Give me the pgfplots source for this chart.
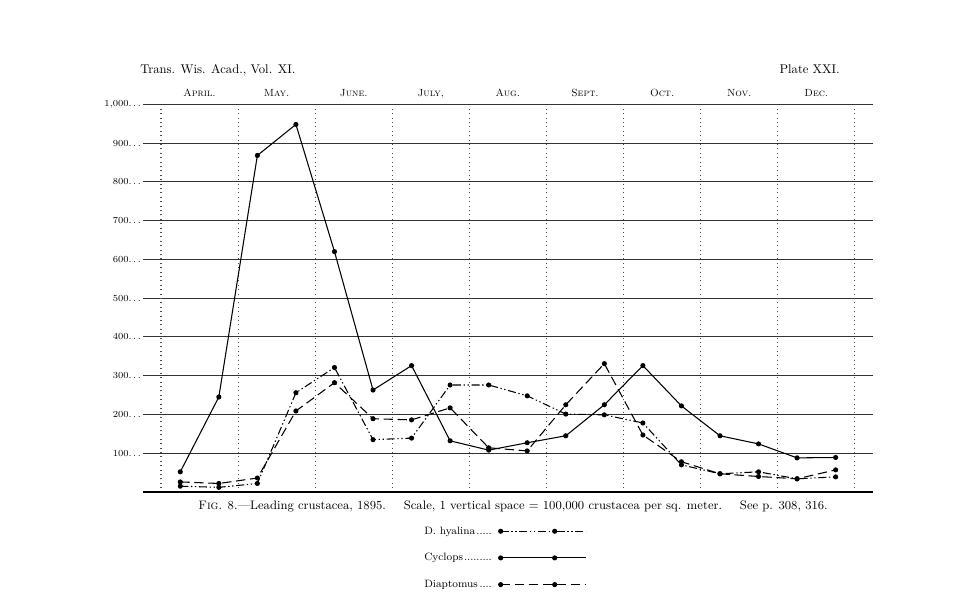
\documentclass[border=0pt]{standalone}
\usepackage{pgfplots}
\pgfplotsset{compat=1.18}

% half-monthly counts, x = month index (April = 0), points at i+0.25 and i+0.75
\pgfplotstableread{
x     hyalina cyclops diaptomus
0.25  15      52      26
0.75  12      245     22
1.25  22      868     36
1.75  256     948     209
2.25  321     620     282
2.75  135     263     189
3.25  139     326     186
3.75  276     132     217
4.25  276     108     114
4.75  248     127     106
5.25  201     145     225
5.75  199     225     331
6.25  178     326     147
6.75  70      222     78
7.25  47      145     47
7.75  52      124     40
8.25  34      88      34
8.75  39      89      57
}\crust

\newcommand{\lead}[2]{\makebox[#1][l]{#2\leaders\hbox to 2.3bp{\hss.\hss}\hfill}}

\begin{document}
\begin{tikzpicture}
\path[use as bounding box] (-120.75bp,-81bp) rectangle (612.75bp,369bp);
\begin{axis}[
  at={(0,0)}, anchor=origin,
  scale only axis, width=547.5bp, height=290.8bp,
  xmin=-0.233, xmax=9.235, ymin=0, ymax=1000,
  axis line style={draw=none},
  major tick length=0pt,
  xtick={0.5,1.5,...,8.5},
  xticklabels={\textsc{April.},\textsc{May.},\textsc{June.},\textsc{July,},\textsc{Aug.},\textsc{Sept.},\textsc{Oct.},\textsc{Nov.},\textsc{Dec.}},
  xticklabel pos=upper,
  xticklabel style={font=\fontsize{7.8}{9}\selectfont, anchor=south, inner sep=0pt, text depth=0pt, yshift=5.5bp},
  ytick={100,200,...,1000},
  yticklabels={100.\,.\,.,200.\,.\,.,300.\,.\,.,400.\,.\,.,500.\,.\,.,600.\,.\,.,700.\,.\,.,800.\,.\,.,900.\,.\,.,{1,000.\,.\,.}},
  yticklabel style={font=\fontsize{7}{8}\selectfont, anchor=east, inner sep=0pt, xshift=-1.5bp},
  ymajorgrids, grid style={black!80, line width=0.8pt},
  legend plot pos=right,
  legend cell align=left,
  legend style={draw=none, fill=none, at={(axis description cs:0.385,-0.170)}, anchor=west,
    row sep=12.5bp, column sep=3.75bp, inner sep=0pt,
    nodes={inner sep=0pt, text height=6bp, text depth=1.5bp, font=\fontsize{8}{9}\selectfont}},
  legend image code/.code={
    \draw[#1, mark=none] (0bp,0bp) -- (64bp,0bp);
    \draw[#1, only marks] plot coordinates {(0bp,0bp) (40.5bp,0bp)};
  },
  every axis plot/.append style={black, line width=0.8pt, mark=*, mark size=1.5pt, mark options={solid}},
]
% dotted month dividers
\pgfplotsinvokeforeach{0,...,9}{
  \draw[black!70, line width=0.8bp, dash pattern=on 0.7bp off 2.6bp] (axis cs:#1,10) -- (axis cs:#1,990);
}
\draw[black, line width=1.3pt] (rel axis cs:0,0) -- (rel axis cs:1,0);

\addplot[dash pattern=on 6bp off 2bp on 1bp off 2bp on 1bp off 2bp] table[x=x, y=hyalina] {\crust};
\addlegendentry{\lead{52bp}{D. hyalina}}
\addplot[solid] table[x=x, y=cyclops] {\crust};
\addlegendentry{\lead{52bp}{Cyclops}}
\addplot[dash pattern=on 7bp off 3.5bp] table[x=x, y=diaptomus] {\crust};
\addlegendentry{\lead{52bp}{Diaptomus}}
\end{axis}

\begin{scope}[x=0.75bp, y=-0.75bp, xshift=-120.75bp, yshift=369bp]
  \node[anchor=base west, inner sep=0pt, font=\fontsize{9.5}{11}\selectfont] at (140,74) {Trans. Wis. Acad., Vol. XI.};
  \node[anchor=base east, inner sep=0pt, font=\fontsize{9.5}{11}\selectfont] at (840,74) {Plate XXI.};
  \node[anchor=base, inner sep=0pt, font=\fontsize{9.25}{11}\selectfont] at (513,510)
    {\textsc{Fig}. 8.---Leading crustacea, 1895.\hspace{1em} Scale, 1 vertical space = 100,000 crustacea per sq. meter.\hspace{1em} See p. 308, 316.};
\end{scope}
\end{tikzpicture}
\end{document}
